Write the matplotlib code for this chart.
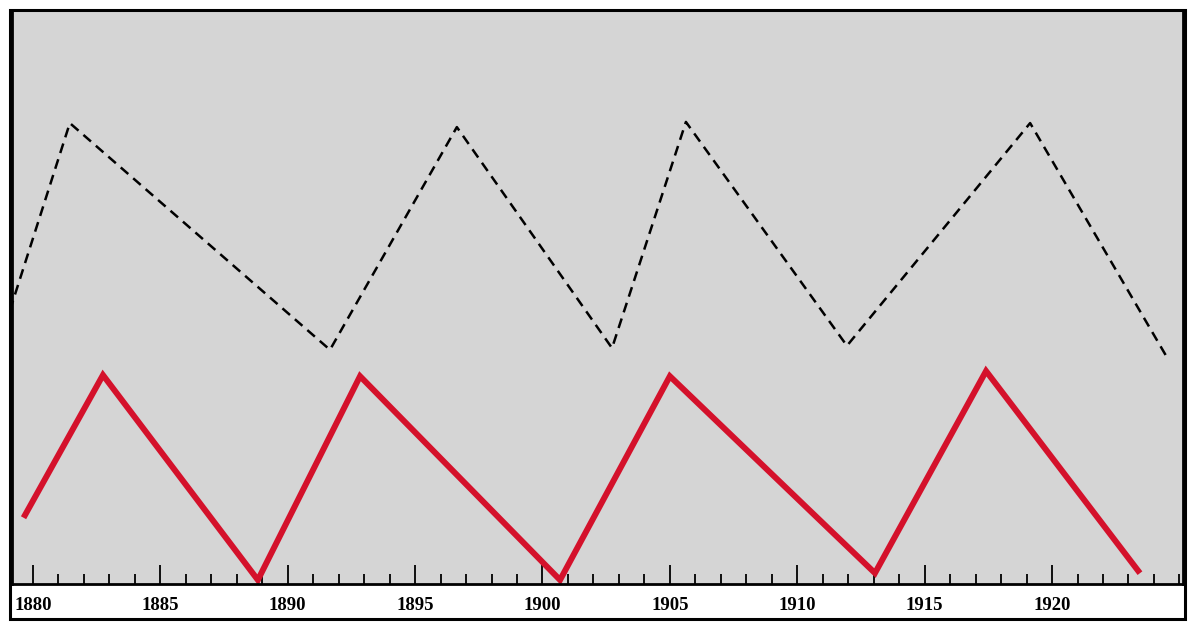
import matplotlib.pyplot as plt
import matplotlib.patches as pat
from matplotlib.ticker import MultipleLocator

# dashed black series (turning points)
dash_years = [1879.1, 1881.45, 1891.66, 1896.64, 1902.73, 1905.63, 1911.95, 1919.14, 1924.51]
dash_vals = [47.7, 80.3, 40.8, 79.6, 41.1, 80.5, 41.5, 80.3, 39.5]

# red series (turning points)
red_years = [1879.69, 1882.75, 1888.83, 1892.84, 1900.69, 1905.0, 1913.05, 1917.41, 1923.38]
red_vals = [12.0, 36.4, 0.7, 36.2, 0.7, 36.2, 1.9, 37.1, 2.3]

tick_years = [1880, 1885, 1890, 1895, 1900, 1905, 1910, 1915, 1920]

W, H = 1197, 631
fig = plt.figure(figsize=(W / 100, H / 100), dpi=100)
fig.patch.set_facecolor("white")

# outer frame round plot + label strip
frame = pat.Rectangle((10 / W, 1 - 619 / H), 1175 / W, 609 / H, transform=fig.transFigure,
                      fill=False, edgecolor="black", linewidth=2.2)
fig.patches.append(frame)

ax = fig.add_axes([12 / W, 1 - 584 / H, 1171 / W, 574 / H])
ax.set_facecolor("#d5d5d5")
ax.set_xlim(1879.18, 1925.14)
ax.set_ylim(0, 100)

ax.plot(dash_years, dash_vals, color="black", lw=1.8, linestyle=(0, (4, 2.6)))
ax.plot(red_years, red_vals, color="#d4112b", lw=4.3, solid_joinstyle="miter")

ax.xaxis.set_major_locator(MultipleLocator(5))
ax.xaxis.set_minor_locator(MultipleLocator(1))
ax.set_xticks(tick_years)
ax.set_xticklabels([str(y) for y in tick_years], fontfamily="Liberation Serif",
                   fontweight="bold", fontsize=13.5)
ax.tick_params(axis="x", which="major", direction="in", length=14, width=1.3, pad=9)
ax.tick_params(axis="x", which="minor", direction="in", length=7, width=1.3)
ax.set_yticks([])
for s in ax.spines.values():
    s.set_linewidth(2)

fig.savefig("out.png", dpi=100)
